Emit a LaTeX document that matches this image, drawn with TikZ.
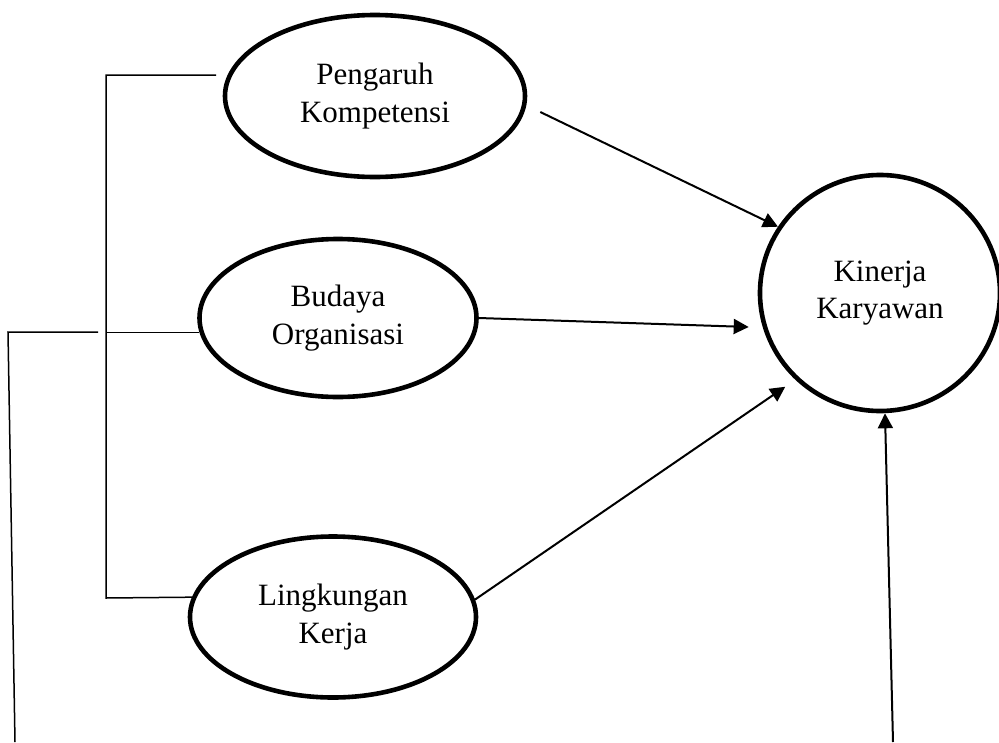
\documentclass[tikz,border=0pt]{standalone}
\usepackage{fontspec}
\setmainfont{Liberation Serif}
\usetikzlibrary{arrows.meta,shapes.geometric,calc}
\tikzset{
    varbox/.style={draw, ellipse, line width=4.6pt, inner sep=0pt, align=center,
        font=\fontsize{31}{37.5}\selectfont},
    varline/.style={line width=1.5pt},
    vararrow/.style={-{Triangle[length=15pt,width=15pt]}, line width=2pt}
}

\begin{document}
\begin{tikzpicture}[x=1pt, y=-1pt]
\useasboundingbox (0,0) rectangle (999,742);
% variables
\node[varbox, minimum width=300pt, minimum height=162pt] (komp) at (375,96) {Pengaruh\\Kompetensi};
\node[varbox, minimum width=277pt, minimum height=158pt] (budaya) at (338,318) {Budaya\\Organisasi};
\node[varbox, minimum width=286pt, minimum height=161pt] (lingk) at (333,617) {Lingkungan\\Kerja};
\node[varbox, minimum width=240pt, minimum height=236pt] (kinerja) at (880,293) {Kinerja\\Karyawan};
% free ends
\coordinate (kompIn) at (216,75);
\coordinate (brTop) at (106,75);
\coordinate (brBot) at (106,598);
\coordinate (leftIn) at (98,332);
\coordinate (leftCorner) at (8,332);
\coordinate (leftEnd) at (15,742);
\coordinate (rightEnd) at (893,742);
% bracket on the left
\draw[varline] (kompIn) -- (brTop) -- (brBot) -- (lingk.172);
\draw[varline] (brTop |- budaya.186) -- (budaya.186);
\draw[varline] (leftIn) -- (leftCorner) -- (leftEnd);
% arrows
\draw[vararrow] ([xshift=13pt,yshift=-16pt]komp.east) -- (kinerja.147);
\draw[vararrow] (budaya.east) -- ([xshift=-9pt,yshift=-34pt]kinerja.west);
\draw[vararrow] (lingk.7) -- ([xshift=-9pt,yshift=-8pt]kinerja.225);
\draw[vararrow] (rightEnd) -- ([xshift=5pt]kinerja.south);
\end{tikzpicture}
\end{document}
